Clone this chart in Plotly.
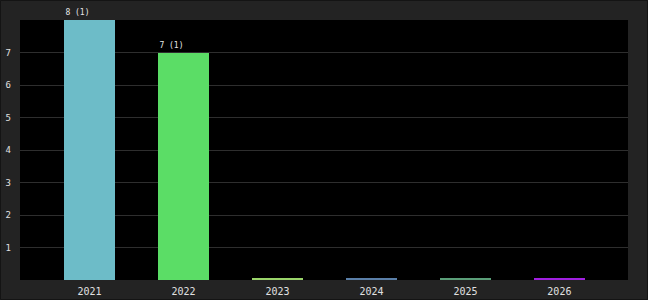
import plotly.graph_objects as go

years = ["2021", "2022", "2023", "2024", "2025", "2026"]
values = [8, 7, 0.04, 0.04, 0.04, 0.04]
labels = ["8 (1)", "7 (1)", "", "", "", ""]
colors = ["#6dbcc8", "#5bdd66", "#9ad46a", "#5a7fa8", "#5a9e78", "#a020e0"]
ytick_vals = [1, 2, 3, 4, 5, 6, 7]

W, H = 648, 300
ML, MR, MT, MB = 20, 20, 20, 20
PW, PH = W - ML - MR, H - MT - MB

# pad labels with non-breaking spaces so centred outside text starts at bar's left edge
padded = [(t + "\u00a0" * len(t)) if t else "" for t in labels]

fig = go.Figure()
fig.add_trace(go.Bar(
    x=years, y=values, marker=dict(color=colors, line=dict(width=0)),
    width=0.543, hoverinfo="skip",
    text=padded, textposition="outside", cliponaxis=False, constraintext="none",
    textangle=0,
    outsidetextfont=dict(family="DejaVu Sans Mono", size=8, color="#e6e6e6"),
))

fig.add_shape(type="rect", xref="paper", yref="paper",
              x0=-ML / PW + 0.5 / PW, x1=1 + MR / PW - 0.5 / PW,
              y0=-MB / PH + 0.5 / PH, y1=1 + MT / PH - 0.5 / PH,
              line=dict(color="#141414", width=1), layer="below")

fig.update_layout(
    width=W, height=H,
    margin=dict(l=ML, r=MR, t=MT, b=MB, autoexpand=False),
    paper_bgcolor="#232323", plot_bgcolor="#000000",
    showlegend=False, bargap=0,
    font=dict(family="DejaVu Sans Mono", size=10, color="#e0e0e0"),
    xaxis=dict(type="category", range=[-0.74, 5.73], showgrid=False, zeroline=False,
               showline=False, ticks="", tickfont=dict(size=10, color="#e0e0e0"),
               ticklabelstandoff=4, automargin=False),
    yaxis=dict(range=[0, 8], tickvals=ytick_vals, showgrid=True, gridcolor="#2e2e2e",
               gridwidth=1, zeroline=False, showline=False, ticks="",
               tickfont=dict(size=9, color="#e0e0e0"), ticklabelstandoff=8,
               automargin=False),
)

fig.write_html("out.html")
